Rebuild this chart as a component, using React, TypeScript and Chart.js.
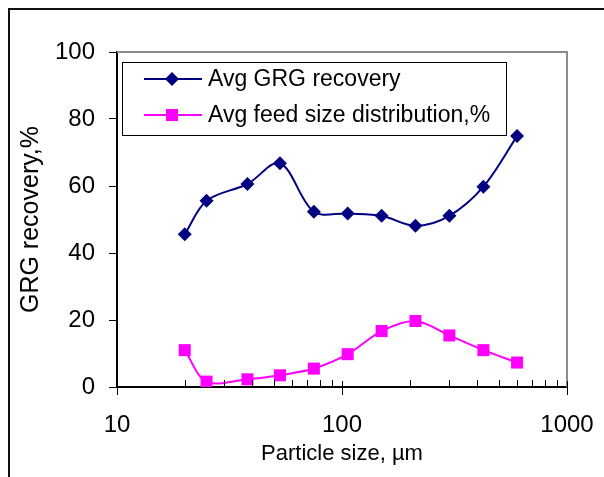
import React, { useEffect, useRef } from "react";
import { Chart, registerables } from "chart.js";

Chart.register(...registerables);

// ---- data ----
const particleSizes = [20, 25, 38, 53, 75, 106, 150, 212, 300, 425, 600];
const grgRecovery = [45.6, 55.6, 60.6, 66.8, 52.3, 51.8, 51.1, 48.1, 51.1, 59.8, 74.9];
const feedDistribution = [11.0, 1.6, 2.3, 3.5, 5.5, 9.8, 16.7, 19.7, 15.4, 11.0, 7.3];
const seriesLabels = ["Avg GRG recovery", "Avg feed size distribution,%"];
const xTickLabels = ["10", "100", "1000"];
const yTicks = [0, 20, 40, 60, 80, 100];

const FONT = '"Liberation Sans", Arial, sans-serif';

function drawMarker(ctx: CanvasRenderingContext2D, style: string, x: number, y: number, r: number, color: string) {
  ctx.save();
  ctx.fillStyle = color;
  ctx.beginPath();
  if (style === "rectRot") {
    ctx.moveTo(x - r, y);
    ctx.lineTo(x, y - r);
    ctx.lineTo(x + r, y);
    ctx.lineTo(x, y + r);
    ctx.closePath();
  } else {
    const s = r * Math.SQRT1_2;
    ctx.rect(x - s, y - s, 2 * s, 2 * s);
  }
  ctx.fill();
  ctx.restore();
}

const framePlugin = {
  id: "frameAndTicks",
  afterDraw(chart: any) {
    const { ctx, chartArea } = chart;
    const xs = chart.scales.x;
    ctx.save();
    // gray plot border top and right
    ctx.strokeStyle = "#8c8c8c";
    ctx.lineWidth = 2;
    ctx.beginPath();
    ctx.moveTo(chartArea.left, chartArea.top);
    ctx.lineTo(chartArea.right, chartArea.top);
    ctx.lineTo(chartArea.right, chartArea.bottom);
    ctx.stroke();
    // x ticks: majors cross the axis, minors point inward
    ctx.strokeStyle = "#000";
    ctx.lineWidth = 1;
    const b = chartArea.bottom;
    xs.ticks.forEach((t: any) => {
      const px = Math.round(xs.getPixelForValue(t.value)) + 0.5;
      const isMajor = Math.abs(Math.log10(t.value) - Math.round(Math.log10(t.value))) < 1e-9;
      ctx.beginPath();
      if (isMajor) {
        ctx.moveTo(px, b - 6);
        ctx.lineTo(px, b + 8);
      } else {
        ctx.moveTo(px, b - 7);
        ctx.lineTo(px, b);
      }
      ctx.stroke();
    });
    ctx.restore();
  },
};

const legendPlugin = {
  id: "boxLegend",
  afterDraw(chart: any) {
    const { ctx } = chart;
    ctx.save();
    ctx.strokeStyle = "#000";
    ctx.lineWidth = 1;
    ctx.strokeRect(122.5, 62.5, 384, 73);
    chart.data.datasets.forEach((ds: any, i: number) => {
      const y = 79 + i * 36;
      ctx.strokeStyle = ds.borderColor;
      ctx.lineWidth = 2;
      ctx.beginPath();
      ctx.moveTo(144, y);
      ctx.lineTo(202, y);
      ctx.stroke();
      drawMarker(ctx, ds.pointStyle, 172, y, ds.pointRadius, ds.pointBackgroundColor);
      ctx.fillStyle = "#000";
      ctx.font = `23px ${FONT}`;
      ctx.textBaseline = "middle";
      ctx.textAlign = "left";
      ctx.fillText(ds.label, 208, y + 1);
    });
    ctx.restore();
  },
};

export default function App() {
  const ref = useRef<HTMLCanvasElement | null>(null);

  useEffect(() => {
    if (!ref.current) return;
    const chart = new Chart(ref.current, {
      type: "line",
      data: {
        datasets: [
          {
            label: seriesLabels[0],
            data: particleSizes.map((x, i) => ({ x, y: grgRecovery[i] })),
            borderColor: "#000080",
            backgroundColor: "#000080",
            pointBackgroundColor: "#000080",
            pointBorderColor: "#000080",
            pointStyle: "rectRot",
            pointRadius: 7,
            pointBorderWidth: 0,
            borderWidth: 2,
            tension: 0.33,
            fill: false,
          },
          {
            label: seriesLabels[1],
            data: particleSizes.map((x, i) => ({ x, y: feedDistribution[i] })),
            borderColor: "#ff00ff",
            backgroundColor: "#ff00ff",
            pointBackgroundColor: "#ff00ff",
            pointBorderColor: "#ff00ff",
            pointStyle: "rect",
            pointRadius: 8.5,
            pointBorderWidth: 0,
            borderWidth: 2,
            tension: 0.33,
            fill: false,
          },
        ],
      },
      options: {
        animation: false,
        responsive: false,
        maintainAspectRatio: false,
        layout: { padding: { left: 0, top: 52, right: 37, bottom: 0 } },
        plugins: {
          legend: { display: false },
          tooltip: { enabled: false },
          title: { display: false },
        },
        scales: {
          x: {
            type: "logarithmic",
            min: 10,
            max: 1000,
            afterBuildTicks(scale: any) {
              const ticks: any[] = [];
              for (let e = 1; e <= 2; e++) {
                for (let m = 1; m <= 9; m++) ticks.push({ value: m * Math.pow(10, e) });
              }
              ticks.push({ value: 1000 });
              scale.ticks = ticks;
            },
            afterFit(scale: any) {
              scale.height = 90;
              scale.paddingLeft = 0;
              scale.paddingRight = 0;
            },
            grid: { display: true, drawOnChartArea: false, drawTicks: false },
            border: { display: true, color: "#000", width: 2 },
            ticks: {
              autoSkip: false,
              maxRotation: 0,
              padding: 24,
              color: "#000",
              font: { family: FONT, size: 24 },
              callback: (value: any) => {
                const s = String(value);
                return xTickLabels.includes(s) ? s : "";
              },
            },
            title: {
              display: true,
              text: "Particle size, µm",
              color: "#000",
              font: { family: FONT, size: 22 },
              padding: { top: 10, bottom: 10 },
            },
          },
          y: {
            min: 0,
            max: 100,
            afterBuildTicks(scale: any) {
              scale.ticks = yTicks.map((v) => ({ value: v }));
            },
            afterFit(scale: any) {
              scale.width = 117;
              scale.paddingTop = 0;
              scale.paddingBottom = 0;
            },
            grid: { drawOnChartArea: false, drawTicks: true, tickLength: 8, color: "#000", lineWidth: 1 },
            border: { display: true, color: "#000", width: 2 },
            ticks: {
              padding: 14,
              color: "#000",
              font: { family: FONT, size: 24 },
            },
            title: {
              display: true,
              text: "GRG recovery,%",
              color: "#000",
              font: { family: FONT, size: 25 },
              padding: { top: 16, bottom: 16 },
            },
          },
        },
      },
      plugins: [framePlugin, legendPlugin],
    });
    return () => chart.destroy();
  }, []);

  return (
    <>
      <div
        style={{
          position: "absolute",
          left: 8,
          top: 8,
          width: 596,
          height: 469,
          boxSizing: "border-box",
          borderTop: "2px solid #111",
          borderLeft: "2px solid #111",
        }}
      />
      <canvas
        ref={ref}
        width={604}
        height={477}
        style={{ position: "absolute", left: 0, top: 0, width: 604, height: 477 }}
      />
    </>
  );
}
